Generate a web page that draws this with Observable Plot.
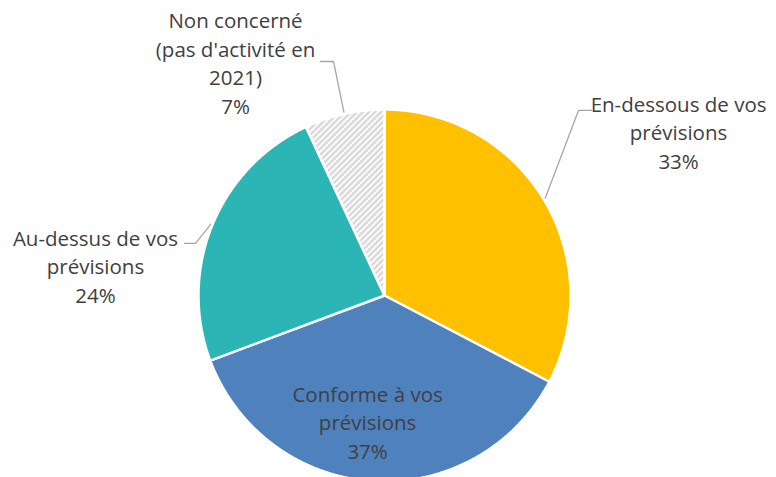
<!DOCTYPE html>
<html><head><meta charset="utf-8">
<script src="https://cdn.jsdelivr.net/npm/d3@7"></script>
<script src="https://cdn.jsdelivr.net/npm/@observablehq/plot@0.6"></script>
<style>body{margin:0;background:#fff}</style>
</head><body><div id="chart"></div>
<script>
// ---- data ----
const categories = ["En-dessous de vos prévisions", "Conforme à vos prévisions", "Au-dessus de vos prévisions", "Non concerné (pas d'activité en 2021)"];
const values = [33, 37, 24, 7];
const labelLines = [
  "En-dessous de vos\nprévisions",
  "Conforme à vos\nprévisions",
  "Au-dessus de vos\nprévisions",
  "Non concerné\n(pas d'activité en\n2021)"
];
const colors = ["#FFC000", "#4F81BD", "#2CB5B5", "url(#hatch)"];

// ---- layout (pie radius units, origin at pie centre) ----
const W = 776, H = 477, R = 186, CX = 384, CY = 295;
const labelPos = [[1.581, 0.883], [-0.091, -0.676], [-1.554, 0.163], [-0.801, 1.255]];
const leaderPts = [
  [[1.113, 0.995], [1.043, 0.995]],
  null,
  [[-1.075, 0.280], [-1.016, 0.280]],
  [[-0.344, 1.258], [-0.274, 1.258]]
];

const rows = categories.map((c, i) => ({key: c, value: values[i], i}));
const arcs = d3.pie().sort(null).value(d => d.value)(rows);

const slicePts = [];
arcs.forEach(a => {
  const k = a.data.key;
  slicePts.push({key: k, x: 0, y: 0});
  const n = Math.max(2, Math.ceil((a.endAngle - a.startAngle) / 0.01));
  for (let j = 0; j <= n; j++) {
    const t = a.startAngle + (a.endAngle - a.startAngle) * j / n;
    slicePts.push({key: k, x: Math.sin(t), y: Math.cos(t)});
  }
  slicePts.push({key: k, x: 0, y: 0});
});

const leaderData = [];
arcs.forEach((a, i) => {
  if (!leaderPts[i]) return;
  const m = (a.startAngle + a.endAngle) / 2;
  leaderPts[i].forEach(p => leaderData.push({key: a.data.key, x: p[0], y: p[1]}));
  leaderData.push({key: a.data.key, x: Math.sin(m) * 1.01, y: Math.cos(m) * 1.01});
});

const labels = arcs.map((a, i) => ({
  x: labelPos[i][0], y: labelPos[i][1],
  text: labelLines[i] + "\n" + Math.round(a.data.value) + "%"
}));

const defsMark = () => {
  const g = d3.create("svg:g");
  const p = g.append("defs").append("pattern").attr("id", "hatch")
    .attr("patternUnits", "userSpaceOnUse").attr("width", 6).attr("height", 6);
  p.append("rect").attr("width", 6).attr("height", 6).attr("fill", "white");
  p.append("path").attr("d", "M-1.5,1.5 l3,-3 M0,6 l6,-6 M4.5,7.5 l3,-3")
    .attr("stroke", "#d2d2d2").attr("stroke-width", 2.2);
  return g.node();
};

const chart = Plot.plot({
  width: W, height: H,
  margin: 0,
  x: {domain: [-CX / R, (W - CX) / R], range: [0, W], axis: null},
  y: {domain: [-(H - CY) / R, CY / R], range: [H, 0], axis: null},
  color: {domain: categories, range: colors},
  style: {fontFamily: "'Open Sans', sans-serif", background: "white"},
  marks: [
    defsMark,
    Plot.line(slicePts, {x: "x", y: "y", z: "key", fill: "key", stroke: "white", strokeWidth: 2.5, strokeLinejoin: "miter"}),
    Plot.line(leaderData, {x: "x", y: "y", z: "key", stroke: "#a6a6a6", strokeWidth: 1.3}),
    Plot.text(labels, {x: "x", y: "y", text: "text", fill: "#404040", fontSize: 20.5, lineHeight: 1.39, lineAnchor: "middle"})
  ]
});
document.getElementById("chart").append(chart);
</script>
</body></html>
